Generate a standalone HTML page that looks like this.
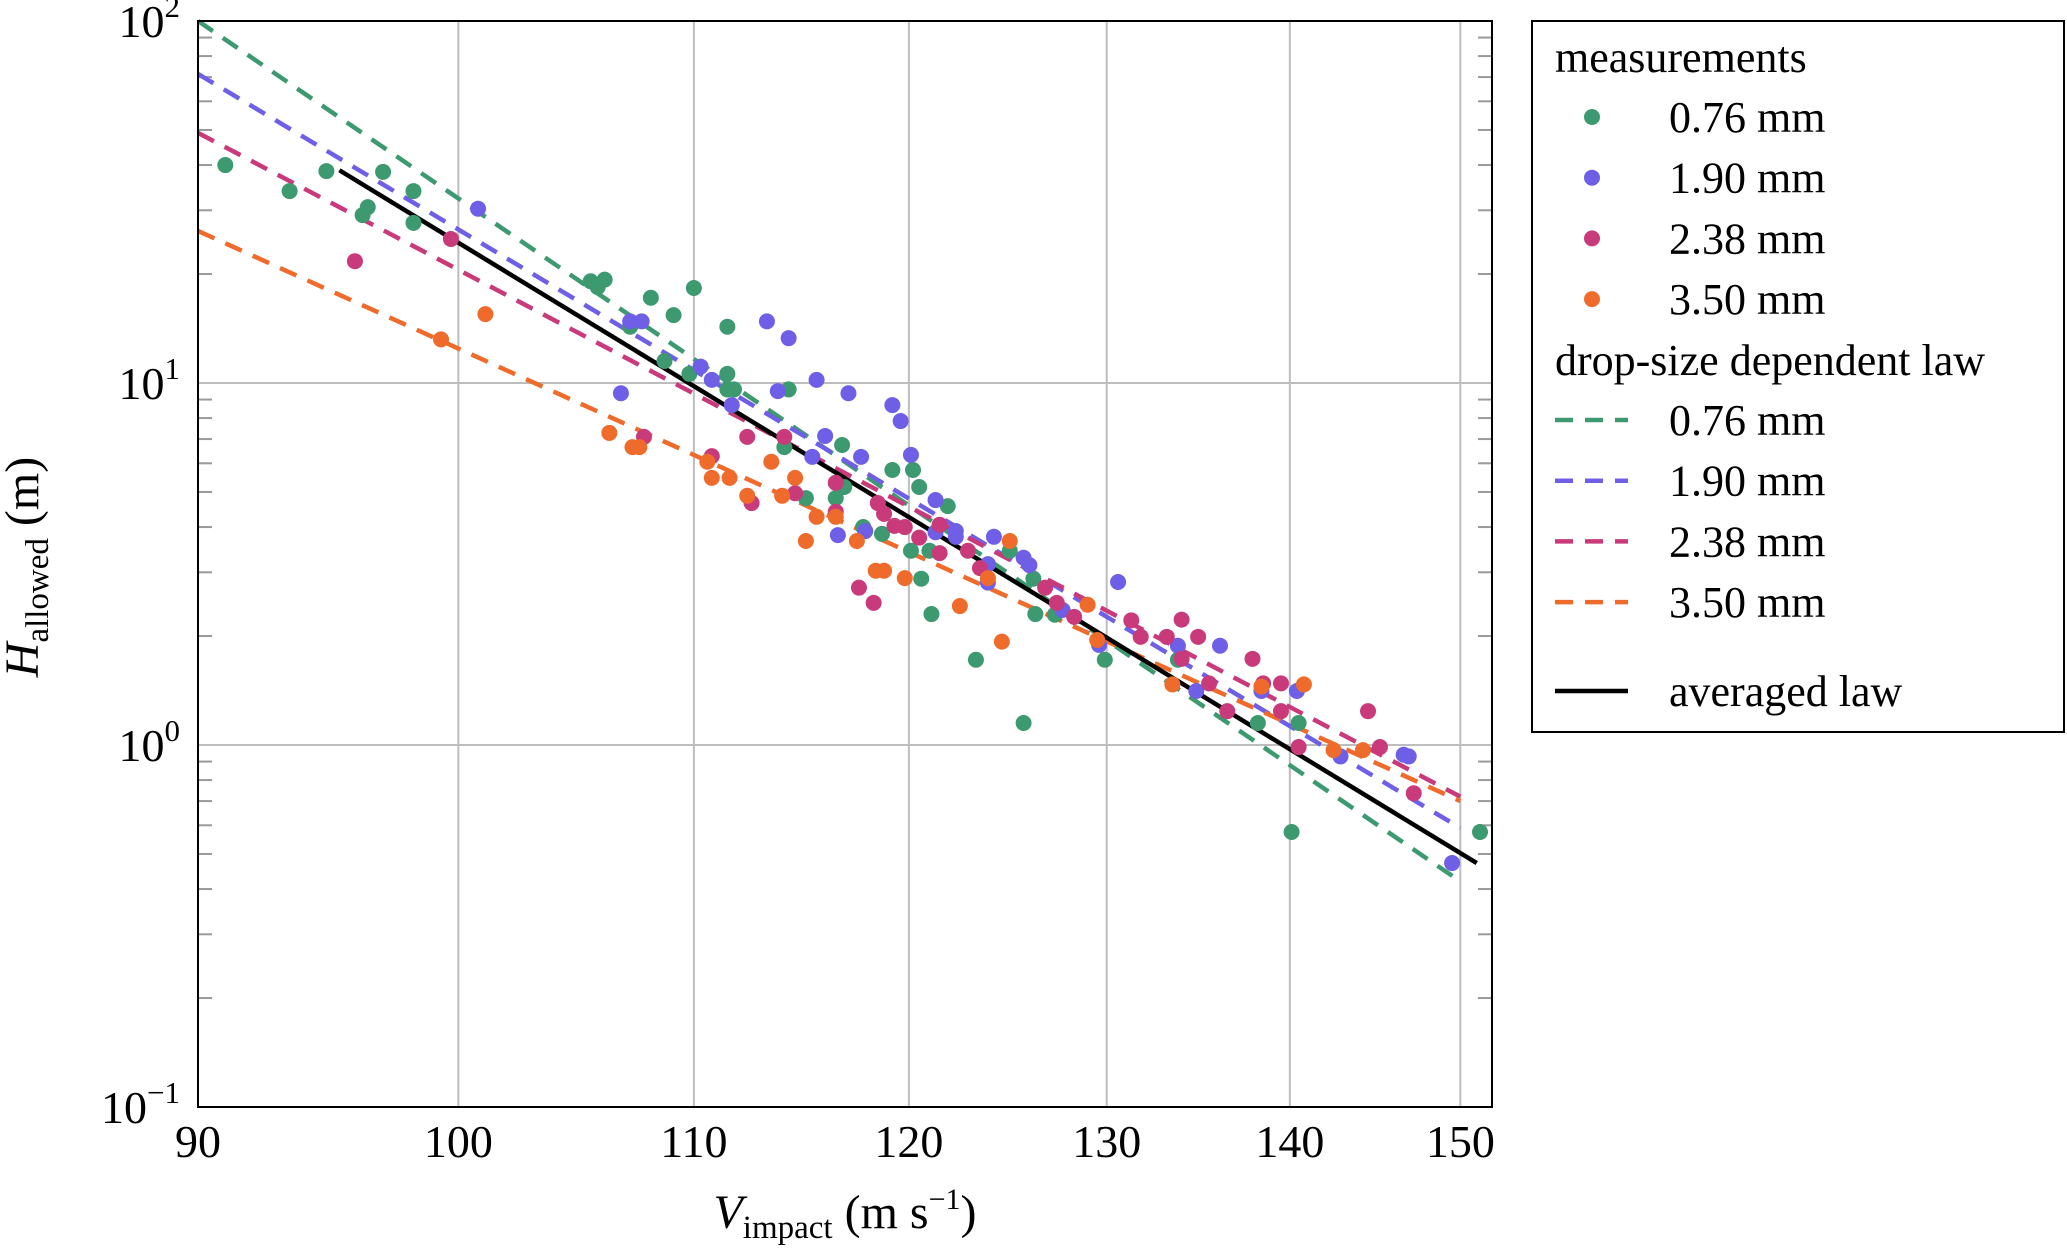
<!DOCTYPE html>
<html><head><meta charset="utf-8"><style>
body{margin:0;background:#fff}
svg{display:block}
text{font-family:"Liberation Serif",serif;fill:#000}
</style></head><body>
<svg id="chart" width="2067" height="1250" viewBox="0 0 2067 1250">
<g id="grid"></g>
<g id="lines"></g>
<g id="points"></g>
<rect x="198" y="21" width="1294" height="1086" fill="none" stroke="#000" stroke-width="2"/>
<g id="ticks"></g>
<text x="845" y="1228" text-anchor="middle" font-size="48"><tspan font-style="italic">V</tspan><tspan font-size="33" dy="10">impact</tspan><tspan dy="-10"> (m s</tspan><tspan font-size="30" dy="-19">−1</tspan><tspan dy="19">)</tspan></text>
<text transform="translate(38,567) rotate(-90)" text-anchor="middle" font-size="48"><tspan font-style="italic">H</tspan><tspan font-size="33" dy="10">allowed</tspan><tspan dy="-10"> (m)</tspan></text>
<g id="legend">
<rect x="1532" y="21" width="532" height="711" fill="#fff" stroke="#000" stroke-width="2"/>
</g>
</svg>
<script>
const xTicks = [90, 100, 110, 120, 130, 140, 150];
const yTickExp = [-1, 0, 1, 2];
const seriesNames = ['0.76 mm', '1.90 mm', '2.38 mm', '3.50 mm'];
const seriesColors = ['#3d9970', '#6f5fe6', '#c93a7b', '#ee6b2b'];
const g076V = [91.0,93.4,94.8,96.4,96.2,97.0,98.2,98.2,105.5,105.8,106.1,108.1,109.1,110.0,111.5,107.2,108.7,109.8,111.5,111.5,111.8,114.3,114.1,116.8,116.9,116.5,115.1,119.2,120.2,120.5,121.9,117.8,118.7,120.1,121.0,120.6,121.1,123.3,125.0,126.2,126.3,127.3,129.9,125.7,133.8,138.2,140.5,140.1,151.2];
const g076H = [40.0,33.9,38.5,30.6,29.1,38.3,33.9,27.7,19.1,18.4,19.3,17.2,15.4,18.3,14.3,14.3,11.5,10.6,10.6,9.6,9.6,9.6,6.65,6.74,5.16,4.81,4.81,5.75,5.75,5.16,4.57,4.00,3.83,3.44,3.44,2.88,2.30,1.72,3.44,2.88,2.30,2.29,1.72,1.15,1.72,1.15,1.15,0.575,0.575];
const g190V = [100.8,107.2,107.7,113.3,114.3,110.3,110.8,106.8,113.8,115.6,117.1,119.2,119.6,111.7,116.0,115.4,117.7,120.1,121.3,121.3,122.3,122.3,117.9,116.6,124.2,125.7,126.0,123.9,123.9,127.7,129.6,130.6,133.8,134.8,136.1,138.4,140.4,142.9,146.6,146.9,149.5];
const g190H = [30.3,14.8,14.8,14.8,13.3,11.1,10.2,9.37,9.5,10.2,9.37,8.69,7.85,8.69,7.14,6.25,6.25,6.33,4.75,3.87,3.90,3.76,3.90,3.80,3.76,3.29,3.14,3.16,2.81,2.36,1.89,2.82,1.88,1.41,1.88,1.41,1.41,0.93,0.94,0.93,0.472];
const g238V = [95.9,99.7,107.8,112.4,114.1,110.8,116.5,114.6,112.6,116.5,118.5,118.8,119.3,119.8,120.5,121.5,121.5,122.9,117.6,118.3,123.5,126.8,127.4,128.3,131.3,131.8,133.2,134.0,134.0,134.9,135.5,136.5,137.9,138.5,139.5,139.5,140.5,144.5,145.2,147.2];
const g238H = [21.7,25.0,7.10,7.10,7.10,6.28,5.30,4.96,4.66,4.41,4.66,4.35,4.03,4.00,3.74,4.06,3.39,3.44,2.72,2.47,3.08,2.72,2.47,2.26,2.21,1.99,1.99,2.22,1.73,1.99,1.48,1.24,1.73,1.48,1.48,1.24,0.987,1.24,0.987,0.736];
const g350V = [101.1,99.3,106.3,107.3,107.6,110.6,110.8,111.6,112.4,113.5,114.6,114.0,115.6,116.5,115.1,117.5,118.4,118.8,119.8,122.5,124.6,125.0,123.9,129.0,129.5,133.5,138.4,140.8,142.5,144.2];
const g350H = [15.5,13.2,7.28,6.65,6.65,6.06,5.47,5.47,4.88,6.06,5.47,4.88,4.27,4.27,3.66,3.66,3.03,3.03,2.89,2.42,1.93,3.66,2.89,2.44,1.95,1.47,1.45,1.47,0.968,0.968];
const lawVStart = [90, 90, 90, 90];
const lawHStart = [100, 71.4, 49.1, 26.3];
const lawVEnd = [150, 150, 150, 150];
const lawHEnd = [0.42, 0.59, 0.72, 0.70];
const avgV = [95.3, 151.0];
const avgH = [38.7, 0.472];

const X0 = 198, X1 = 1492, Y0 = 21, Y1 = 1107;
const xMin = 90, xPx = 5690;
const xs = v => X0 + xPx * Math.log10(v / xMin);
const ys = h => Y0 + (2 - Math.log10(h)) * (Y1 - Y0) / 3;
const NS = 'http://www.w3.org/2000/svg';
function mk(tag, attrs, parent) {
  const e = document.createElementNS(NS, tag);
  for (const k in attrs) e.setAttribute(k, attrs[k]);
  parent.appendChild(e);
  return e;
}
const grid = document.getElementById('grid');
const ticks = document.getElementById('ticks');
xTicks.forEach(v => {
  const x = xs(v);
  const l = mk('line', {x1: x, x2: x, y1: Y0, y2: Y1, stroke: '#bdbdbd', 'stroke-width': 2}, grid);
  
  
  const t = mk('text', {x: x, y: 1157, 'text-anchor': 'middle', 'font-size': 46}, ticks);
  t.textContent = v;
  
  
});
yTickExp.forEach(e => {
  const y = ys(Math.pow(10, e));
  const l = mk('line', {x1: X0, x2: X1, y1: y, y2: y, stroke: '#bdbdbd', 'stroke-width': 2}, grid);
  
  
  const t = mk('text', {x: 180, y: y + 16, 'text-anchor': 'end', 'font-size': 46}, ticks);
  
  
  const a = mk('tspan', {}, t); a.textContent = '10';
  const b = mk('tspan', {'font-size': 31, dy: -20}, t); b.textContent = e < 0 ? '−' + (-e) : e;
  if (e < 2) {
    for (let m = 2; m <= 9; m++) {
      const ym = ys(m * Math.pow(10, e));
      const t1 = mk('line', {x1: X0, x2: X0 + 14, y1: ym, y2: ym, stroke: '#999', 'stroke-width': 2}, grid);
      
      
      const t2 = mk('line', {x1: X1 - 14, x2: X1, y1: ym, y2: ym, stroke: '#999', 'stroke-width': 2}, grid);
      
      
    }
  }
});
const linesG = document.getElementById('lines');
seriesNames.forEach((n, i) => {
  const l = mk('line', {x1: xs(lawVStart[i]), y1: ys(lawHStart[i]), x2: xs(lawVEnd[i]), y2: ys(lawHEnd[i]),
    stroke: seriesColors[i], 'stroke-width': 4.5, 'stroke-dasharray': '18 12'}, linesG);
  
  
});
const ptsG = document.getElementById('points');
const allV = [g076V, g190V, g238V, g350V];
const allH = [g076H, g190H, g238H, g350H];
allV.forEach((vs, i) => {
  vs.forEach((v, j) => {
    const c = mk('circle', {cx: xs(v), cy: ys(allH[i][j]), r: 8, fill: seriesColors[i]}, ptsG);
    
    
  });
});
const avg = mk('line', {x1: xs(avgV[0]), y1: ys(avgH[0]), x2: xs(avgV[1]), y2: ys(avgH[1]), stroke: '#000', 'stroke-width': 4.5}, linesG);



const lg = document.getElementById('legend');
function ltext(x, y, s) {
  const t = mk('text', {x: x, y: y + 15, 'font-size': 44}, lg);
  t.textContent = s;
  
  
}
ltext(1555, 57, 'measurements');
seriesNames.forEach((n, i) => {
  const y = 117 + i * 60.7;
  const c = mk('circle', {cx: 1592, cy: y, r: 8, fill: seriesColors[i]}, lg);
  
  
  ltext(1669, y, n);
});
ltext(1555, 360, 'drop-size dependent law');
seriesNames.forEach((n, i) => {
  const y = 420 + i * 60.7;
  const l = mk('line', {x1: 1555, x2: 1628, y1: y, y2: y, stroke: seriesColors[i], 'stroke-width': 4.5, 'stroke-dasharray': '18 12'}, lg);
  
  
  ltext(1669, y, n);
});
const la = mk('line', {x1: 1555, x2: 1628, y1: 691, y2: 691, stroke: '#000', 'stroke-width': 4.5}, lg);


ltext(1669, 691, 'averaged law');
</script>
</body></html>
